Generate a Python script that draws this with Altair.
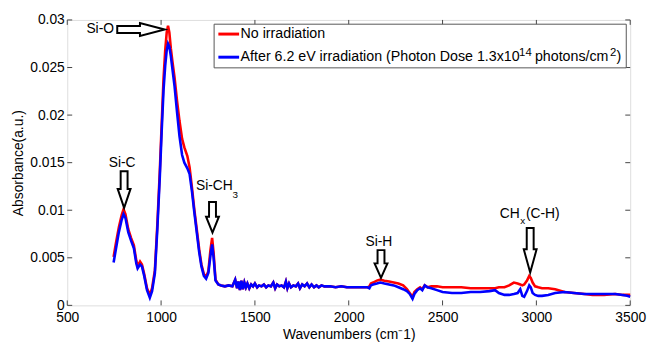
import altair as alt
import pandas as pd

# ---------------- data ----------------
wavenumber = [
    747, 760, 775, 790, 800, 810, 825, 840, 855, 868,
    875, 888, 898, 910, 925, 940, 952, 967, 980, 993,
    1003, 1013, 1022, 1030, 1037, 1044, 1052, 1060, 1072, 1085,
    1098, 1112, 1124, 1140, 1152, 1165, 1177, 1190, 1203, 1215,
    1228, 1240, 1252, 1263, 1272, 1280, 1290, 1305, 1320, 1340,
    1360, 1380, 1395, 1405, 1412, 1420, 1428, 1436, 1444, 1452,
    1460, 1470, 1480, 1490, 1500, 1512, 1522, 1535, 1548, 1560,
    1572, 1585, 1598, 1608, 1618, 1630, 1642, 1655, 1665, 1673,
    1682, 1692, 1705, 1718, 1730, 1740, 1752, 1765, 1778, 1790,
    1802, 1815, 1828, 1840, 1855, 1870, 1900, 1930, 1960, 1990,
    2020, 2050, 2080, 2100, 2110, 2118, 2130, 2150, 2168, 2190,
    2215, 2240, 2265, 2290, 2310, 2325, 2340, 2350, 2365, 2380,
    2392, 2405, 2420, 2440, 2470, 2500, 2550, 2600, 2650, 2700,
    2750, 2780, 2800, 2830, 2855, 2880, 2900, 2914, 2925, 2935,
    2950, 2962, 2970, 2980, 2993, 3010, 3030, 3063, 3100, 3150,
    3200, 3256, 3300, 3361, 3420, 3460, 3484, 3500,
]
absorb_no_irradiation = [
    0.0051, 0.0066, 0.0082, 0.0095, 0.0101, 0.0096, 0.0080, 0.0071, 0.0063, 0.0047,
    0.0041, 0.0046, 0.0043, 0.0033, 0.0018, 0.0011, 0.0018, 0.0037, 0.0085, 0.0140,
    0.0190, 0.0238, 0.0268, 0.0287, 0.0294, 0.0287, 0.0270, 0.0257, 0.0239, 0.0215,
    0.0194, 0.0175, 0.0166, 0.0157, 0.0145, 0.0123, 0.0101, 0.0080, 0.0059, 0.0043,
    0.0033, 0.0030, 0.0036, 0.0058, 0.0071, 0.0055, 0.0027, 0.0022, 0.0021, 0.0020,
    0.0021, 0.0020, 0.0027, 0.0018, 0.0025, 0.0016, 0.0026, 0.0017, 0.0024, 0.0019,
    0.0023, 0.0018, 0.0022, 0.0020, 0.0023, 0.0019, 0.0021, 0.0020, 0.0022, 0.0019,
    0.0021, 0.0020, 0.0024, 0.0018, 0.0022, 0.0020, 0.0021, 0.0019, 0.0025, 0.0018,
    0.0023, 0.0019, 0.0021, 0.0020, 0.0023, 0.0018, 0.0022, 0.0020, 0.0023, 0.0019,
    0.0022, 0.0019, 0.0021, 0.0019, 0.0021, 0.0020, 0.0020, 0.0019, 0.0020, 0.0019,
    0.0019, 0.0019, 0.0019, 0.0019, 0.0020, 0.0023, 0.0024, 0.0026, 0.0027, 0.0026,
    0.0025, 0.0024, 0.0023, 0.0021, 0.0017, 0.0013, 0.0009, 0.0014, 0.0017, 0.0019,
    0.0017, 0.0021, 0.0019, 0.0020, 0.0020, 0.0019, 0.0019, 0.0019, 0.0018, 0.0018,
    0.0018, 0.0018, 0.0019, 0.0019, 0.0021, 0.0024, 0.0023, 0.0022, 0.0021, 0.0022,
    0.0026, 0.0031, 0.0029, 0.0024, 0.0020, 0.0019, 0.0018, 0.0018, 0.0017, 0.0014,
    0.0013, 0.0012, 0.0011, 0.0011, 0.0012, 0.0011, 0.0011, 0.0011,
]
absorb_after_irradiation = [
    0.0045, 0.0060, 0.0077, 0.0090, 0.0096, 0.0092, 0.0077, 0.0068, 0.0060, 0.0044,
    0.0039, 0.0043, 0.0041, 0.0031, 0.0016, 0.0008, 0.0015, 0.0034, 0.0080, 0.0134,
    0.0182, 0.0226, 0.0252, 0.0268, 0.0275, 0.0272, 0.0262, 0.0249, 0.0230, 0.0203,
    0.0178, 0.0158, 0.0150, 0.0144, 0.0138, 0.0119, 0.0098, 0.0077, 0.0056, 0.0041,
    0.0031, 0.0028, 0.0034, 0.0052, 0.0064, 0.0050, 0.0026, 0.0022, 0.0021, 0.0020,
    0.0021, 0.0020, 0.0027, 0.0018, 0.0025, 0.0016, 0.0026, 0.0017, 0.0024, 0.0019,
    0.0023, 0.0018, 0.0022, 0.0020, 0.0023, 0.0019, 0.0021, 0.0020, 0.0022, 0.0019,
    0.0021, 0.0020, 0.0024, 0.0018, 0.0022, 0.0020, 0.0021, 0.0019, 0.0025, 0.0018,
    0.0023, 0.0019, 0.0021, 0.0020, 0.0023, 0.0018, 0.0022, 0.0020, 0.0023, 0.0019,
    0.0022, 0.0019, 0.0021, 0.0019, 0.0021, 0.0020, 0.0020, 0.0019, 0.0020, 0.0019,
    0.0019, 0.0019, 0.0019, 0.0019, 0.0018, 0.0021, 0.0022, 0.0023, 0.0024, 0.0023,
    0.0022, 0.0021, 0.0019, 0.0017, 0.0015, 0.0012, 0.0007, 0.0012, 0.0016, 0.0018,
    0.0016, 0.0021, 0.0019, 0.0018, 0.0016, 0.0014, 0.0013, 0.0013, 0.0014, 0.0014,
    0.0015, 0.0016, 0.0013, 0.0011, 0.0011, 0.0012, 0.0013, 0.0017, 0.0010, 0.0009,
    0.0015, 0.0021, 0.0019, 0.0013, 0.0011, 0.0010, 0.0010, 0.0011, 0.0013, 0.0014,
    0.0013, 0.0012, 0.0012, 0.0012, 0.0012, 0.0011, 0.0010, 0.0009,
]
assert len(wavenumber) == len(absorb_no_irradiation) == len(absorb_after_irradiation)

series_names = ["No irradiation", "After 6.2 eV irradiation"]
series_colors = ["#ff0000", "#0000ff"]
# legend text of the second series, split around its superscripts
legend_pieces = ["After 6.2 eV irradiation (Photon Dose 1.3x10", "14",
                 "photons/cm", "2", ")"]
legend_is_sup = [False, True, False, True, False]

x_ticks = [500, 1000, 1500, 2000, 2500, 3000, 3500]
y_ticks = [0, 0.005, 0.01, 0.015, 0.02, 0.025, 0.03]

# peak labels (left edge, vertical centre) and subscripts
label_text = ["Si-O", "Si-C", "Si-CH", "Si-H", "CH", "(C-H)"]
label_x = [602, 721, 1186, 2089, 2805, 2944]
label_y = [0.0290, 0.0150, 0.01249, 0.00668, 0.00958, 0.00958]
sub_text = ["3", "x"]
sub_x = [1381, 2914]
sub_y = [0.01163, 0.00882]

# hollow arrows: tip position, length in px, direction
arrow_x = [1019, 803, 1274, 2172, 2967]
arrow_y = [0.0290, 0.01025, 0.00765, 0.0029, 0.00346]
arrow_len = [48, 37, 31, 28, 45]
arrow_dir = ["right", "down", "down", "down", "down"]

# ---------------- chart ----------------
FONT = "Liberation Sans"
W, H = 570, 289

df_red = pd.DataFrame({"wn": wavenumber, "a": absorb_no_irradiation,
                       "series": series_names[0]})
df_blue = pd.DataFrame({"wn": wavenumber, "a": absorb_after_irradiation,
                        "series": series_names[1]})

xscale = alt.Scale(domain=[500, 3500], nice=False, zero=False)
yscale = alt.Scale(domain=[0, 0.03], nice=False)
cscale = alt.Scale(domain=series_names, range=series_colors)

xaxis = alt.Axis(values=x_ticks, ticks=False, domain=False, grid=False,
                 format="d", labelFontSize=14, labelFont=FONT, labelColor="black",
                 labelPadding=5, title="Wavenumbers (cm\u207b1)",
                 titleFontSize=14, titleFont=FONT, titleFontWeight="normal",
                 titleColor="black", titlePadding=4, labelFlush=False,
                 labelOverlap=False)
yaxis = alt.Axis(values=y_ticks, ticks=False, domain=False, grid=False,
                 format=".3~f", labelFontSize=14, labelFont=FONT,
                 labelColor="black", labelPadding=3, title="Absorbance(a.u.)",
                 titleFontSize=14, titleFont=FONT, titleFontWeight="normal",
                 titleColor="black", titlePadding=4, labelFlush=False,
                 labelOverlap=False)

red_line = alt.Chart(df_red).mark_line(strokeWidth=2.6).encode(
    x=alt.X("wn:Q", scale=xscale, axis=xaxis),
    y=alt.Y("a:Q", scale=yscale, axis=yaxis),
    color=alt.Color("series:N", scale=cscale, legend=None),
)
blue_line = alt.Chart(df_blue).mark_line(strokeWidth=2.6).encode(
    x=alt.X("wn:Q"),
    y=alt.Y("a:Q"),
    color=alt.Color("series:N", scale=cscale, legend=None),
)

# inward ticks (MATLAB style) on all four sides
xt = alt.Chart(pd.DataFrame({"t": x_ticks}))
yt = alt.Chart(pd.DataFrame({"t": y_ticks}))
tick_style = dict(color="#444444", strokeWidth=1)
ticks = [
    xt.mark_rule(**tick_style).encode(x="t:Q", y=alt.value(H), y2=alt.value(H - 5)),
    xt.mark_rule(**tick_style).encode(x="t:Q", y=alt.value(0), y2=alt.value(5)),
    yt.mark_rule(**tick_style).encode(y="t:Q", x=alt.value(0), x2=alt.value(5)),
    yt.mark_rule(**tick_style).encode(y="t:Q", x=alt.value(W), x2=alt.value(W - 5)),
]

labels = alt.Chart(pd.DataFrame({"t": label_text, "x": label_x, "y": label_y})).mark_text(
    align="left", baseline="middle", fontSize=14, font=FONT, color="black"
).encode(x="x:Q", y="y:Q", text="t:N")
subs = alt.Chart(pd.DataFrame({"t": sub_text, "x": sub_x, "y": sub_y})).mark_text(
    align="left", baseline="middle", fontSize=10, font=FONT, color="black"
).encode(x="x:Q", y="y:Q", text="t:N")


def arrow_path(length, direction, hw=3.5, hh=6.5):
    hl = 0.52 * length
    if direction == "down":
        pts = [(0, 0), (-hh, -hl), (-hw, -hl), (-hw, -length), (hw, -length), (hw, -hl), (hh, -hl)]
    else:
        pts = [(0, 0), (-hl, -hh), (-hl, -hw), (-length, -hw), (-length, hw), (-hl, hw), (-hl, hh)]
    return "M" + " L".join(f"{a:.1f},{b:.1f}" for a, b in pts) + " Z"


arrows = []
for ax_, ay_, al_, ad_ in zip(arrow_x, arrow_y, arrow_len, arrow_dir):
    arrows.append(
        alt.Chart(pd.DataFrame({"x": [ax_], "y": [ay_]})).mark_point(
            shape=arrow_path(al_, ad_), size=4, filled=True, fill="white",
            stroke="black", strokeWidth=2, opacity=1
        ).encode(x="x:Q", y="y:Q")
    )

# ---- hand-built legend box (pixel layout inside the plot area) ----
one = alt.Chart(pd.DataFrame({"k": [0]}))
LFS = 14.4
leg_box = one.mark_rect(fill="white", stroke="#555555", strokeWidth=1).encode(
    x=alt.value(148.7), x2=alt.value(566), y=alt.value(4.3), y2=alt.value(48.5))
row_y = [14.3, 37.7]
leg_lines = [
    one.mark_rule(color=series_colors[i], strokeWidth=3).encode(
        x=alt.value(153), x2=alt.value(174), y=alt.value(row_y[i]))
    for i in range(2)
]
leg_text1 = one.mark_text(align="left", baseline="middle", fontSize=LFS, font=FONT,
                          color="black", text=series_names[0]).encode(
    x=alt.value(175.5), y=alt.value(row_y[0]))
piece_x = [175.5, 457.5, 473.5, 549.5, 556.0]
leg_text2 = []
for txt, sup, px in zip(legend_pieces, legend_is_sup, piece_x):
    leg_text2.append(
        one.mark_text(align="left", baseline="middle",
                      fontSize=11.5 if sup else LFS, font=FONT, color="black",
                      text=txt).encode(
            x=alt.value(px), y=alt.value(row_y[1] - 4.5 if sup else row_y[1]))
    )

chart = alt.layer(
    red_line, blue_line, *ticks, labels, subs, *arrows,
    leg_box, *leg_lines, leg_text1, *leg_text2,
).properties(
    width=W, height=H,
    autosize=alt.AutoSizeParams(type="none"),
    padding={"left": 60, "top": 10, "right": 17, "bottom": 36},
).configure_view(stroke="#444444", strokeWidth=1).configure(background="white")

chart.save("out.html", embed_options={"renderer": "svg", "actions": False})
